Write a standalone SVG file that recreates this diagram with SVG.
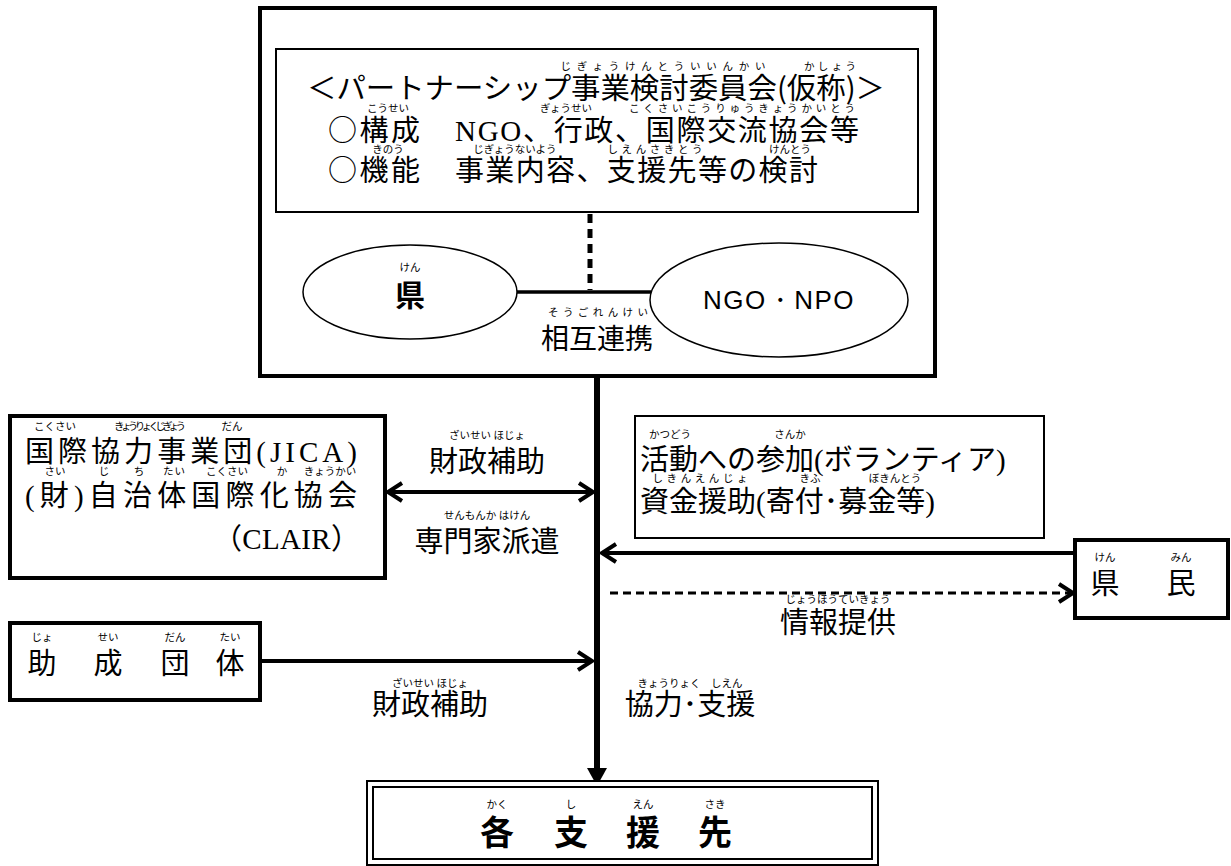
<svg xmlns="http://www.w3.org/2000/svg" width="1231" height="866" viewBox="0 0 1231 866">
<style>
.m{font-family:"Liberation Serif","Noto Sans CJK JP",serif;font-size:29px;fill:#000}
.j{font-family:"Noto Sans CJK JP",sans-serif;font-size:29px;fill:#000}
.g{font-family:"Noto Sans CJK JP",sans-serif;font-size:29px;fill:#000}
.gb{font-family:"Noto Sans CJK JP",sans-serif;font-size:34px;font-weight:bold;fill:#000}
.s{font-family:"Liberation Sans",Arial,sans-serif;font-size:26px;fill:#000}
.r{font-family:"Noto Sans CJK JP",sans-serif;font-size:10.5px;fill:#000;text-anchor:middle}
.c{text-anchor:middle}
.box{fill:#fff;stroke:#000}
.ln{fill:none;stroke:#000}
</style>
<defs>
<marker id="chev" markerUnits="userSpaceOnUse" markerWidth="26" markerHeight="26" viewBox="0 0 26 26" refX="22" refY="13" orient="auto-start-reverse">
<path d="M8,4 L22,13 L8,22" fill="none" stroke="#000" stroke-width="4"/>
</marker>
<marker id="solid" markerUnits="userSpaceOnUse" markerWidth="24" markerHeight="24" viewBox="0 0 24 24" refX="20" refY="12" orient="auto">
<path d="M2,2 L20,12 L2,22 Z" fill="#000"/>
</marker>
</defs>
<rect width="1231" height="866" fill="#fff"/>

<g id="connectors">
<line class="ln" x1="597" y1="376" x2="597" y2="786" stroke-width="6" marker-end="url(#solid)"/>
<line class="ln" x1="590" y1="214" x2="590" y2="290" stroke-width="5" stroke-dasharray="9,6"/>
<line class="ln" x1="517" y1="292" x2="651" y2="292" stroke-width="3.5"/>
<line class="ln" x1="388" y1="492" x2="593" y2="492" stroke-width="4" marker-start="url(#chev)" marker-end="url(#chev)"/>
<line class="ln" x1="1075" y1="553" x2="602" y2="553" stroke-width="4" marker-end="url(#chev)"/>
<line class="ln" x1="610" y1="593" x2="1073" y2="593" stroke-width="3" stroke-dasharray="8,5" marker-end="url(#chev)"/>
<line class="ln" x1="261" y1="661" x2="592" y2="661" stroke-width="4" marker-end="url(#chev)"/>
</g>

<g id="committee">
<rect x="260" y="8" width="675" height="368" fill="none" stroke="#000" stroke-width="4"/>
<rect class="box" x="276" y="49" width="642" height="163" stroke-width="2"/>
<text class="r" x="663" y="70" textLength="205" lengthAdjust="spacing">じぎょうけんとういいんかい</text>
<text class="r" x="830" y="70" textLength="52" lengthAdjust="spacing">かしょう</text>
<text class="g" x="307" y="99" textLength="578" lengthAdjust="spacingAndGlyphs">＜パートナーシップ事業検討委員会(仮称)＞</text>
<text class="r" x="388" y="112">こうせい</text>
<text class="r" x="566" y="112">ぎょうせい</text>
<text class="r" x="742" y="112" textLength="226" lengthAdjust="spacing">こくさいこうりゅうきょうかいとう</text>
<text class="j" x="328" y="141" textLength="92" lengthAdjust="spacing">○構成</text>
<text class="m" x="455" y="141" textLength="404" lengthAdjust="spacing">NGO、行政、国際交流協会等</text>
<text class="r" x="388" y="153">きのう</text>
<text class="r" x="515" y="153">じぎょうないよう</text>
<text class="r" x="655" y="153" textLength="95" lengthAdjust="spacing">しえんさきとう</text>
<text class="r" x="790" y="153">けんとう</text>
<text class="j" x="328" y="181" textLength="92" lengthAdjust="spacing">○機能</text>
<text class="m" x="455" y="181" textLength="363" lengthAdjust="spacing">事業内容、支援先等の検討</text>
</g>

<g id="ken">
<ellipse class="box" cx="410" cy="292" rx="107" ry="47" stroke-width="1.5"/>
<text class="r" x="410" y="271">けん</text>
<text class="gb c" x="410" y="306" style="font-size:30px">県</text>
</g>

<g id="ngo">
<ellipse class="box" cx="779" cy="300" rx="129" ry="57" stroke-width="1.5"/>
<text class="s c" x="779" y="309" letter-spacing="1.5">NGO・NPO</text>
</g>

<g id="renkei">
<text class="r" x="598" y="316" textLength="100" lengthAdjust="spacing">そうごれんけい</text>
<text class="m c" x="597" y="349" style="font-size:28px">相互連携</text>
</g>

<g id="jica">
<rect class="box" x="10" y="416" width="375" height="162" stroke-width="4"/>
<text class="r" x="55" y="430">こくさい</text>
<text class="r" x="150" y="430" textLength="72" lengthAdjust="spacing">きょうりょくじぎょう</text>
<text class="r" x="232" y="430">だん</text>
<text class="m" x="25" y="462" textLength="332" lengthAdjust="spacing">国際協力事業団(JICA)</text>
<text class="r" x="55" y="475">さい</text>
<text class="r" x="104" y="475">じ</text>
<text class="r" x="139" y="475">ち</text>
<text class="r" x="174" y="475" textLength="22" lengthAdjust="spacing">たい</text>
<text class="r" x="227" y="475">こくさい</text>
<text class="r" x="282" y="475">か</text>
<text class="r" x="330" y="475">きょうかい</text>
<text class="m" x="25" y="506" textLength="332" lengthAdjust="spacing">(財)自治体国際化協会</text>
<text class="m" x="213" y="549" textLength="147" lengthAdjust="spacing">（CLAIR）</text>
</g>

<g id="zaisei1">
<text class="r" x="487" y="439">ざいせい ほじょ</text>
<text class="m c" x="487" y="472">財政補助</text>
</g>
<g id="senmonka">
<text class="r" x="487" y="519">せんもんか はけん</text>
<text class="m c" x="487" y="552">専門家派遣</text>
</g>

<g id="volunteer">
<rect class="box" x="635" y="416" width="409" height="122" stroke-width="2"/>
<text class="r" x="670" y="438">かつどう</text>
<text class="r" x="790" y="438">さんか</text>
<text class="m" x="640" y="470">活動への参加(ボランティア)</text>
<text class="r" x="700" y="482" textLength="95" lengthAdjust="spacing">しきんえんじょ</text>
<text class="r" x="810" y="482">きふ</text>
<text class="r" x="895" y="482">ぼきんとう</text>
<text class="m" x="640" y="512">資金援助(寄付･募金等)</text>
</g>

<g id="kenmin">
<rect class="box" x="1075" y="540" width="153" height="78" stroke-width="4"/>
<text class="r" x="1105" y="561">けん</text>
<text class="r" x="1181" y="561">みん</text>
<text class="m c" x="1105" y="594">県</text>
<text class="m c" x="1181" y="594">民</text>
</g>

<g id="jouhou">
<text class="r" x="838" y="603">じょうほうていきょう</text>
<text class="m c" x="838" y="633">情報提供</text>
</g>

<g id="josei">
<rect class="box" x="10" y="623" width="250" height="77" stroke-width="4"/>
<text class="r" x="42" y="641">じょ</text>
<text class="r" x="108" y="641">せい</text>
<text class="r" x="175" y="641">だん</text>
<text class="r" x="230" y="641">たい</text>
<text class="m c" x="42" y="674">助</text>
<text class="m c" x="108" y="674">成</text>
<text class="m c" x="175" y="674">団</text>
<text class="m c" x="230" y="674">体</text>
</g>

<g id="zaisei2">
<text class="r" x="430" y="687">ざいせい ほじょ</text>
<text class="m c" x="430" y="715">財政補助</text>
</g>
<g id="kyouryoku">
<text class="r" x="690" y="687">きょうりょく　しえん</text>
<text class="m c" x="690" y="715">協力･支援</text>
</g>

<g id="shiensaki">
<rect x="367" y="781" width="511" height="84" fill="#fff" stroke="#000" stroke-width="2"/>
<rect x="373" y="787" width="499" height="72" fill="none" stroke="#000" stroke-width="2"/>
<text class="r" x="497" y="808">かく</text>
<text class="r" x="571" y="808">し</text>
<text class="r" x="643" y="808">えん</text>
<text class="r" x="715" y="808">さき</text>
<text class="gb c" x="497" y="845">各</text>
<text class="gb c" x="571" y="845">支</text>
<text class="gb c" x="643" y="845">援</text>
<text class="gb c" x="715" y="845">先</text>
</g>
</svg>
